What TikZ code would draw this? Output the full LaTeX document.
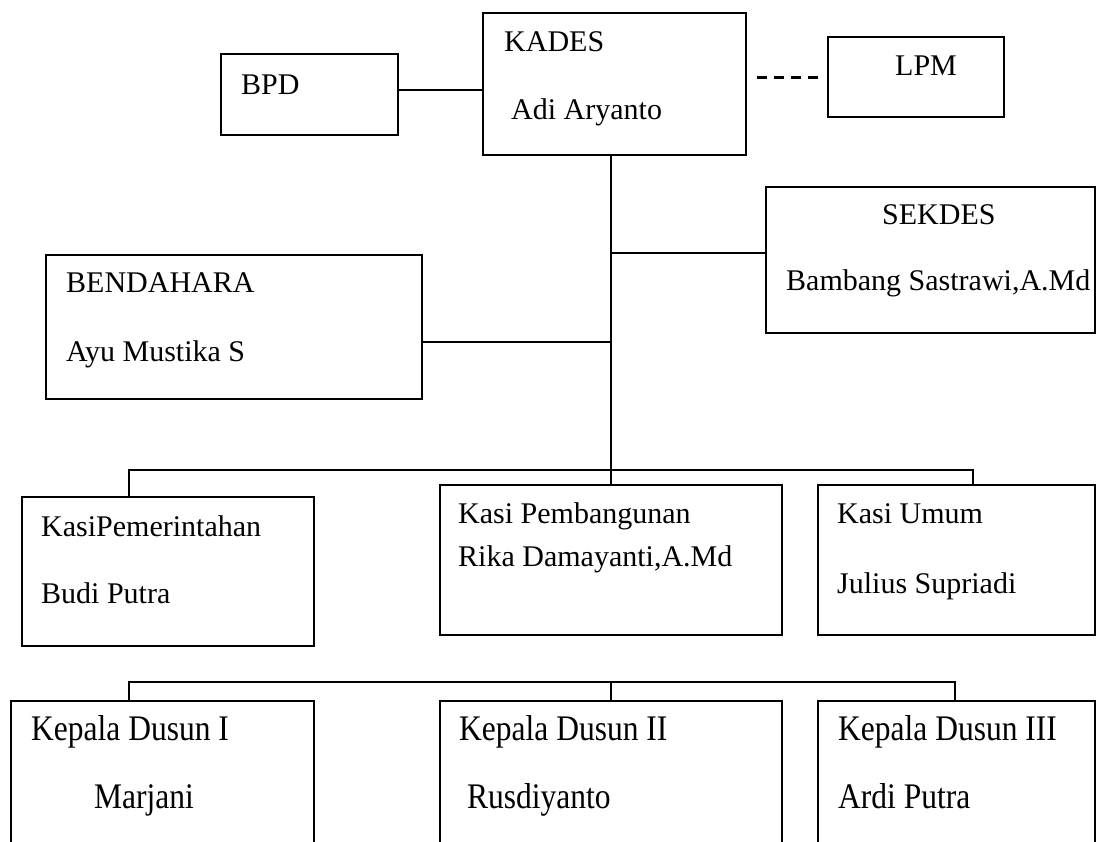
\documentclass[tikz,border=0pt]{standalone}
\usepackage{fontspec}
\usepackage{graphicx}
\setmainfont{Liberation Serif}
\tikzset{
  box/.style={draw, line width=1.6pt, inner sep=0pt, anchor=north west},
  conn/.style={line width=1.4pt},
  dashline/.style={line width=3pt, dash pattern=on 10pt off 7pt},
  txt/.style={anchor=base west, inner sep=0pt, font=\fontsize{30}{36}\selectfont},
}
\newcommand{\stretchtxt}[1]{\scalebox{1.05}[1.2]{#1}}
\begin{document}
\begin{tikzpicture}[x=1pt,y=-1pt]
\useasboundingbox (0,0) rectangle (1096,842);
\clip (0,0) rectangle (1096,842);
% boxes
\node[box, minimum width=177, minimum height=81] (bpd) at (220,53) {};
\node[box, minimum width=263, minimum height=142] (kades) at (482,12) {};
\node[box, minimum width=176, minimum height=80] (lpm) at (827,36) {};
\node[box, minimum width=329, minimum height=146] (sekdes) at (765,186) {};
\node[box, minimum width=376, minimum height=144] (bend) at (45,254) {};
\node[box, minimum width=292, minimum height=149] (kpem) at (21,496) {};
\node[box, minimum width=342, minimum height=150] (kpemb) at (439,484) {};
\node[box, minimum width=277, minimum height=150] (kumum) at (817,484) {};
\node[box, minimum width=303, minimum height=200] (kd1) at (10,700) {};
\node[box, minimum width=342, minimum height=200] (kd2) at (439,700) {};
\node[box, minimum width=277, minimum height=200] (kd3) at (817,700) {};
% texts
\node[txt] (tbpd) at (241,95) {BPD};
\node[txt] (tkades) at (504,52) {KADES};
\node[txt] (tadi) at (511,120) {Adi Aryanto};
\node[txt] (tlpm) at (895,76) {LPM};
\node[txt] (tsek) at (882,225) {SEKDES};
\node[txt] (tbam) at (786,291) {Bambang Sastrawi,A.Md};
\node[txt] (tbend) at (66,293) {BENDAHARA};
\node[txt] (tayu) at (66,362) {Ayu Mustika S};
\node[txt] (tkpem) at (41,536) {KasiPemerintahan};
\node[txt] (tbudi) at (41,603) {Budi Putra};
\node[txt] (tkpemb) at (458,523) {Kasi Pembangunan};
\node[txt] (trika) at (458,566) {Rika Damayanti,A.Md};
\node[txt] (tkum) at (837,523) {Kasi Umum};
\node[txt] (tjul) at (837,593) {Julius Supriadi};
\node[txt] (tkd1) at (31,740) {\stretchtxt{Kepala Dusun I}};
\node[txt] (tmar) at (94,808) {\stretchtxt{Marjani}};
\node[txt] (tkd2) at (459,740) {\stretchtxt{Kepala Dusun II}};
\node[txt] (trus) at (467,808) {\stretchtxt{Rusdiyanto}};
\node[txt] (tkd3) at (838,740) {\stretchtxt{Kepala Dusun III}};
\node[txt] (tard) at (838,808) {\stretchtxt{Ardi Putra}};
% helper coordinates
\coordinate (sx) at (611,0);
\coordinate (b1) at (129,470);
\coordinate (b2) at (973,470);
\coordinate (c1) at (129,682);
\coordinate (c2) at (955,682);
\coordinate (d1) at (757,78);
\coordinate (d2) at (821,78);
% connectors
\draw[conn] (bpd.east |- 0,90) -- (kades.west |- 0,90);
\draw[dashline] (d1) -- (d2);
\draw[conn] (kades.south -| sx) -- (kpemb.north -| sx);
\draw[conn] (sx |- 0,253) -- (sekdes.west |- 0,253);
\draw[conn] (bend.east |- 0,342) -- (sx |- 0,342);
\draw[conn] (kpem.north -| b1) -- (b1) -- (b2) -- (kumum.north -| b2);
\draw[conn] (kd1.north -| c1) -- (c1) -- (c2) -- (kd3.north -| c2);
\draw[conn] (kd2.north -| sx) -- (sx |- c1);
\end{tikzpicture}
\end{document}
